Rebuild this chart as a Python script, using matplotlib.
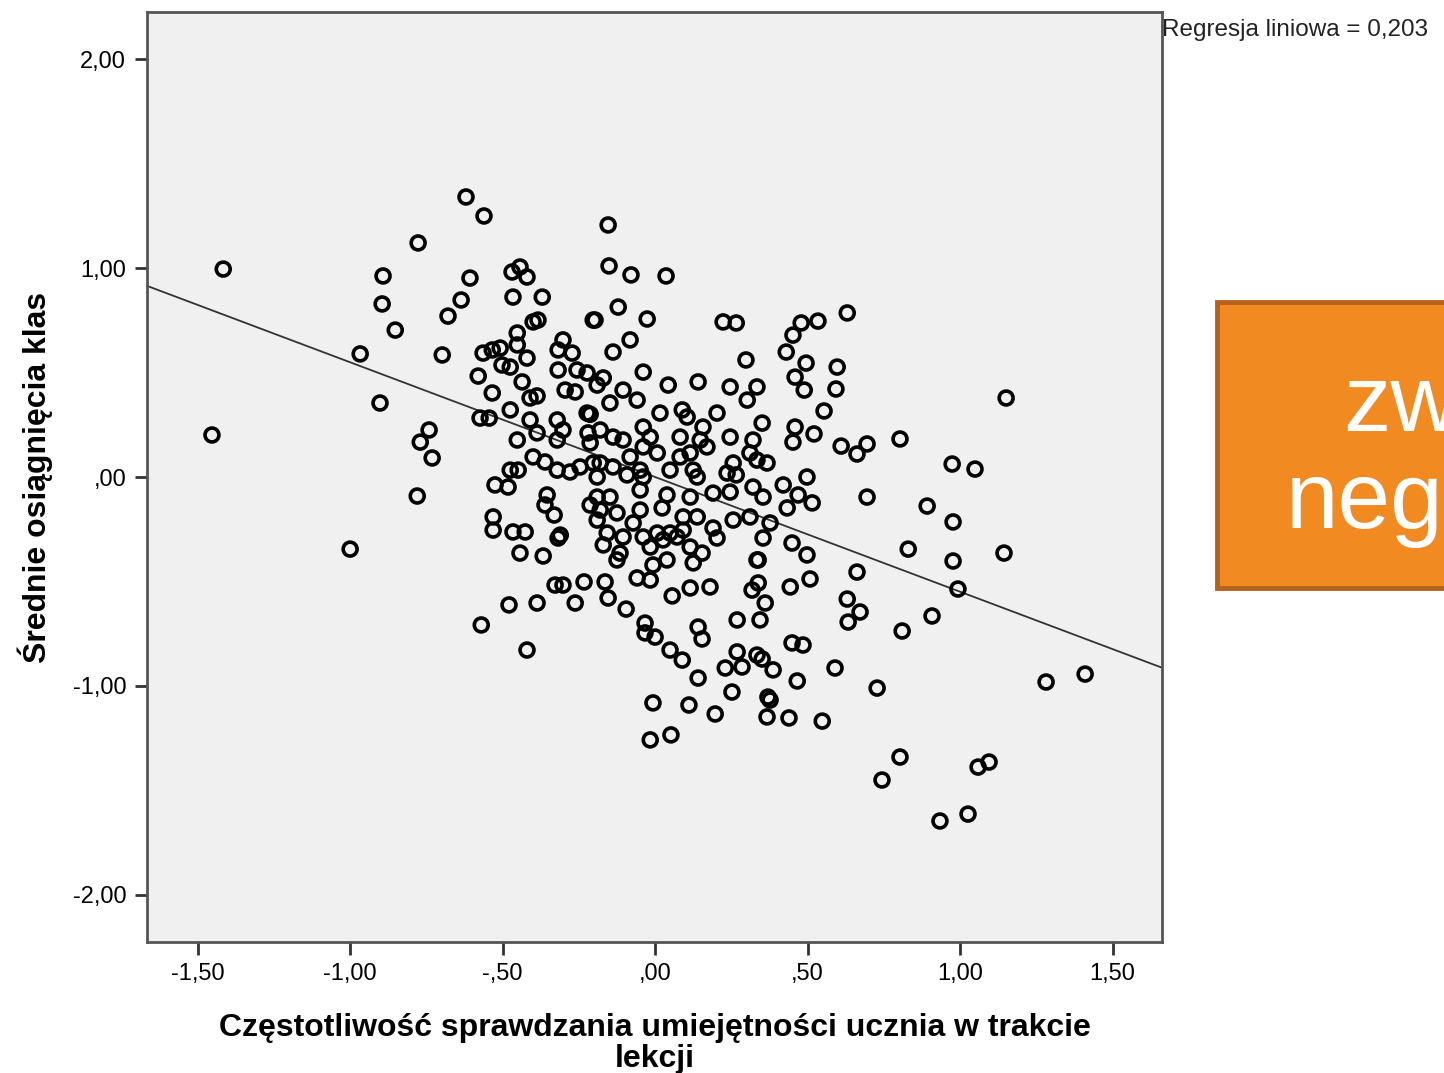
import numpy as np
import matplotlib
matplotlib.use("Agg")
import matplotlib.pyplot as plt
from matplotlib.patches import Rectangle

plt.rcParams['font.family'] = ['Liberation Sans', 'DejaVu Sans']

# values (x = czestotliwosc, y = osiagniecia)
x_vals = [
    -1.416, -1.453, -1.000, -0.967, -0.892, -0.895, -0.852, -0.902, -0.777, -0.780,
    -0.770, -0.741, -0.731, -0.698, -0.679, -0.636, -0.607, -0.620, -0.561, -0.580,
    -0.534, -0.574, -0.544, -0.570, -0.564, -0.534, -0.508, -0.502, -0.475, -0.475,
    -0.452, -0.469, -0.443, -0.420, -0.466, -0.370, -0.384, -0.400, -0.452, -0.452,
    -0.420, -0.436, -0.410, -0.387, -0.410, -0.387, -0.400, -0.361, -0.475, -0.449,
    -0.525, -0.482, -0.354, -0.361, -0.331, -0.531, -0.531, -0.466, -0.426, -0.443,
    -0.367, -0.318, -0.311, -0.328, -0.302, -0.233, -0.262, -0.479, -0.387, -0.420,
    -0.302, -0.318, -0.272, -0.318, -0.256, -0.223, -0.295, -0.262, -0.203, -0.321,
    -0.302, -0.321, -0.223, -0.220, -0.321, -0.279, -0.246, -0.203, -0.190, -0.190,
    -0.154, -0.151, -0.079, 0.036, -0.121, -0.026, -0.197, -0.082, -0.138, 0.223,
    0.266, 0.298, -0.039, 0.043, 0.141, 0.246, 0.334, 0.302, -0.170, -0.190,
    -0.105, -0.059, -0.148, 0.016, 0.089, 0.105, 0.203, 0.157, -0.213, -0.180,
    -0.138, -0.105, -0.039, -0.016, 0.082, 0.148, 0.246, 0.321, -0.213, -0.082,
    -0.039, 0.007, 0.082, 0.115, 0.170, 0.256, 0.311, -0.180, -0.138, -0.049,
    0.049, 0.125, 0.236, -0.164, -0.154, -0.095, -0.033, -0.033, 0.000, 0.049,
    0.089, 0.141, -0.007, 0.111, 0.197, -0.016, 0.052, 0.141, 0.154, 0.269,
    0.230, 0.285, 0.252, 0.056, 0.115, 0.180, 0.269, -0.059, -0.016, 0.125,
    0.154, 0.203, 0.190, 0.246, 0.190, 0.115, 0.311, 0.256, 0.334, 0.318,
    0.334, -0.180, -0.157, -0.125, -0.105, -0.072, -0.049, -0.039, -0.016, 0.007,
    0.026, 0.049, 0.072, 0.092, 0.115, -0.115, -0.125, -0.007, 0.039, -0.049,
    0.023, 0.039, -0.039, -0.092, -0.190, -0.148, 0.092, 0.138, 0.138, 0.266,
    0.321, 0.630, 0.479, 0.534, 0.452, 0.430, 0.495, 0.597, 0.459, 0.489,
    0.593, 0.554, 0.351, 0.459, 0.452, 0.521, 0.610, 0.662, 0.695, 0.803,
    0.334, 0.367, 0.498, 0.420, 0.354, 0.469, 0.515, 0.433, 0.695, 0.830,
    0.662, 0.630, 0.672, 0.633, 0.810, 0.449, 0.498, 0.508, 0.443, 0.338,
    0.338, 0.361, 0.344, 0.377, 0.354, 0.449, 0.485, 0.351, 0.387, 0.466,
    0.590, 0.728, 0.370, 0.377, 0.367, 0.439, 0.548, 0.803, 0.744, 1.151,
    0.974, 1.049, 0.892, 0.977, 0.977, 1.144, 0.993, 0.908, 1.282, 1.410,
    1.059, 1.095, 0.934, 1.026, -0.213, -0.170,
]
y_vals = [
    0.995, 0.201, -0.345, 0.589, 0.962, 0.828, 0.703, 0.354, 1.120, -0.091,
    0.167, 0.225, 0.091, 0.584, 0.770, 0.847, 0.952, 1.340, 1.249, 0.483,
    0.402, 0.282, 0.282, -0.708, 0.593, 0.608, 0.617, 0.536, 0.526, 0.321,
    0.177, 0.981, 1.005, 0.957, 0.861, 0.861, 0.751, 0.742, 0.689, 0.632,
    0.569, 0.455, 0.378, 0.388, 0.273, 0.211, 0.096, 0.072, 0.033, 0.033,
    -0.038, -0.048, -0.086, -0.134, -0.182, -0.191, -0.254, -0.263, -0.263, -0.364,
    -0.378, -0.292, -0.278, -0.517, -0.517, -0.502, -0.603, -0.612, -0.603, -0.828,
    0.656, 0.608, 0.593, 0.512, 0.512, 0.498, 0.416, 0.407, 0.751, 0.273,
    0.225, 0.177, 0.306, 0.211, 0.033, 0.024, 0.048, 0.067, -0.096, -0.206,
    1.206, 1.010, 0.967, 0.962, 0.813, 0.756, 0.751, 0.656, 0.598, 0.742,
    0.737, 0.560, 0.502, 0.440, 0.455, 0.431, 0.431, 0.368, 0.474, 0.440,
    0.416, 0.368, 0.354, 0.306, 0.321, 0.287, 0.306, 0.239, 0.300, 0.225,
    0.191, 0.177, 0.239, 0.191, 0.191, 0.177, 0.191, 0.177, 0.163, 0.096,
    0.144, 0.115, 0.096, 0.115, 0.144, 0.067, 0.115, 0.067, 0.048, 0.033,
    0.033, 0.033, 0.019, -0.502, -0.579, -0.632, -0.699, -0.746, -0.766, -0.828,
    -0.876, -0.962, -1.081, -1.091, -1.134, -1.258, -1.234, -0.718, -0.775, -0.837,
    -0.914, -0.909, -1.029, -0.569, -0.531, -0.526, -0.684, -0.483, -0.493, -0.411,
    -0.364, -0.292, -0.244, -0.072, -0.077, -0.096, -0.191, -0.206, -0.397, -0.541,
    -0.852, -0.158, -0.268, -0.172, -0.287, -0.220, -0.158, -0.287, -0.335, -0.268,
    -0.301, -0.268, -0.287, -0.254, -0.335, -0.364, -0.397, -0.421, -0.397, -0.062,
    -0.148, -0.086, 0.000, 0.010, 0.000, -0.096, -0.191, -0.191, 0.000, 0.010,
    -0.048, 0.785, 0.737, 0.746, 0.679, 0.598, 0.545, 0.526, 0.478, 0.416,
    0.421, 0.316, 0.258, 0.239, 0.167, 0.206, 0.148, 0.110, 0.158, 0.182,
    0.081, 0.067, 0.000, -0.038, -0.096, -0.086, -0.124, -0.148, -0.096, -0.345,
    -0.455, -0.584, -0.646, -0.694, -0.737, -0.316, -0.373, -0.488, -0.526, -0.397,
    -0.507, -0.603, -0.684, -0.220, -0.292, -0.794, -0.804, -0.871, -0.923, -0.976,
    -0.914, -1.010, -1.053, -1.067, -1.148, -1.153, -1.168, -1.340, -1.450, 0.378,
    0.062, 0.038, -0.139, -0.215, -0.402, -0.364, -0.536, -0.665, -0.981, -0.943,
    -1.388, -1.364, -1.646, -1.613, -0.134, -0.325,
]

# linear fit shown in the chart (R^2 = 0,203)
fit_slope = -0.549
fit_intercept = 0.0
r2_label = "Regresja liniowa = 0,203"

x_ticks = [-1.5, -1.0, -0.5, 0.0, 0.5, 1.0, 1.5]
x_ticklabels = ["-1,50", "-1,00", "-,50", ",00", ",50", "1,00", "1,50"]
y_ticks = [-2.0, -1.0, 0.0, 1.0, 2.0]
y_ticklabels = ["-2,00", "-1,00", ",00", "1,00", "2,00"]

fig = plt.figure(figsize=(14.44, 10.73), dpi=100, facecolor='white')
ax = fig.add_axes([0.1018, 0.1221, 0.7029, 0.8667])
ax.set_facecolor('#f0f0f0')

ax.scatter(x_vals, y_vals, s=100, facecolors='none', edgecolors='black', linewidths=2.6, zorder=3)

xl = np.array([-1.67, 1.67])
ax.plot(xl, fit_slope * xl + fit_intercept, color='#333333', lw=1.3, zorder=2)

ax.set_xlim(-1.666, 1.662)
ax.set_ylim(-2.225, 2.225)
ax.set_xticks(x_ticks)
ax.set_xticklabels(x_ticklabels)
ax.set_yticks(y_ticks)
ax.set_yticklabels(y_ticklabels)
ax.tick_params(direction='out', length=9, width=2, color='#333333', labelsize=17, pad=6)

for sp in ax.spines.values():
    sp.set_color('#555555')
    sp.set_linewidth(2)

ax.set_xlabel("Częstotliwość sprawdzania umiejętności ucznia w trakcie\nlekcji",
              fontsize=23, fontweight='bold', labelpad=20, linespacing=1.08)
ax.set_ylabel("Średnie osiągnięcia klas", fontsize=23, fontweight='bold', labelpad=14)

fig.text(0.805, 0.972, r2_label, fontsize=17.5, ha='left', va='center', color='#222222')

# orange callout box (cut off by the right edge, as in the source slide)
box = Rectangle((0.843, 0.452), 0.3, 0.2665, transform=fig.transFigure,
                facecolor='#f28a22', edgecolor='#b5621d', linewidth=3.5, clip_on=False)
fig.patches.append(box)
fig.text(1.047, 0.576, "związek\nnegatywny", fontsize=68, color='white',
         ha='center', va='center', linespacing=1.12)

fig.savefig("out.png", dpi=100)
